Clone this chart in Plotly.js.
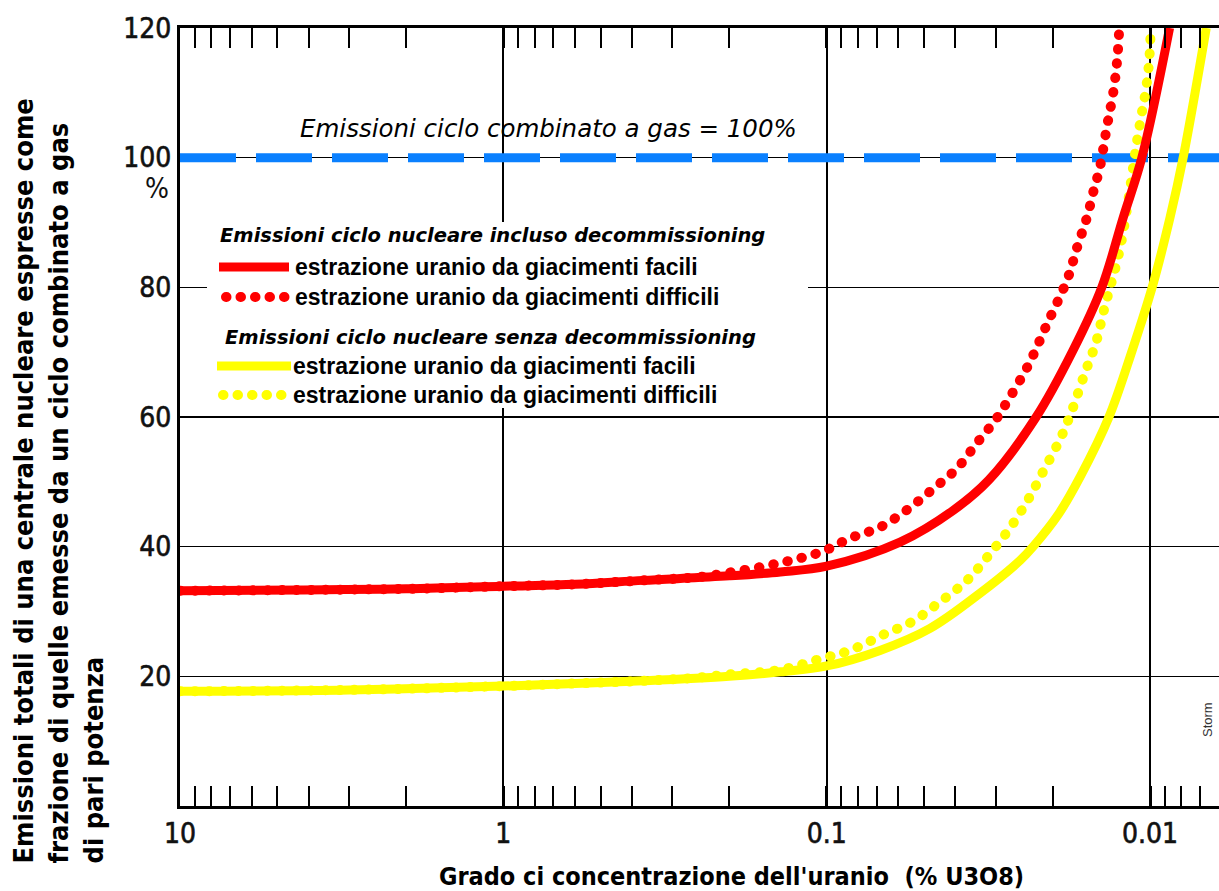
<!DOCTYPE html>
<html>
<head>
<meta charset="utf-8">
<script src="https://cdn.plot.ly/plotly-3.0.1.min.js"></script>
<style>
  html, body { margin: 0; padding: 0; background: #fff; }
  #chart { width: 1219px; height: 891px; }
  path[style*="0.5px"] { stroke-linecap: round; }
  .xtick text, .ytick text { stroke: #111; stroke-width: 0.6px; }
</style>
</head>
<body>
<div id="chart"></div>
<script>
// ---- data ----
const xTickVals = [10, 1, 0.1, 0.01];
const xTickText = ["10", "1", "0.1", "0.01"];
const yTickVals = [20, 40, 60, 80, 100, 120];
const yTickText = ["20", "40", "60", "80", "100", "120"];

// gas combined cycle reference = 100%
const gasX = [10, 0.005];
const gasY = [100, 100];

// with decommissioning, easy deposits (red solid)
const redEasyX = [10, 2, 1, 0.6, 0.37, 0.2, 0.139, 0.1, 0.0593, 0.0406, 0.0315, 0.0225, 0.0173, 0.0141, 0.0121, 0.0106, 0.0087];
const redEasyY = [33.2, 33.5, 33.9, 34.2, 34.8, 35.5, 36.1, 37.0, 40.7, 45.6, 50.3, 60, 70.3, 80, 90.8, 100, 120];

// with decommissioning, difficult deposits (red dotted)
const redHardX = [10, 2, 1, 0.6, 0.37, 0.25, 0.2, 0.139, 0.1025, 0.0847, 0.0684, 0.056, 0.0469, 0.0395, 0.0343, 0.0301, 0.0281, 0.0238, 0.0207, 0.018, 0.0168, 0.01567, 0.01479, 0.01436, 0.01357, 0.013, 0.01264, 0.01245];
const redHardY = [33.2, 33.5, 33.9, 34.2, 34.8, 35.3, 36, 37.5, 39.3, 41.3, 43, 45.8, 48.9, 52.1, 56, 59.5, 61.8, 68, 74.6, 81.3, 86.2, 90.8, 95.8, 98, 105, 110, 115, 120];

// without decommissioning, easy deposits (yellow solid)
const yelEasyX = [10, 3, 1, 0.6, 0.37, 0.2, 0.139, 0.1, 0.0684, 0.0479, 0.0336, 0.0252, 0.0230, 0.0192, 0.01644, 0.0134, 0.01135, 0.00985, 0.00867, 0.0079, 0.0067];
const yelEasyY = [17.7, 17.9, 18.5, 18.9, 19.3, 20.0, 20.7, 21.6, 24, 27.4, 32.8, 37.9, 40, 45, 50.8, 60, 70.3, 80, 90.8, 100, 120];

// without decommissioning, difficult deposits (yellow dotted)
const yelHardX = [10, 3, 1, 0.6, 0.37, 0.25, 0.2, 0.139, 0.1063, 0.0847, 0.067, 0.0541, 0.0446, 0.0368, 0.0315, 0.0271, 0.0238, 0.0213, 0.0188, 0.0173, 0.0159, 0.01469, 0.01387, 0.01236, 0.01096, 0.01057, 0.01035, 0.01007, 0.00995];
const yelHardY = [17.7, 17.9, 18.5, 18.9, 19.3, 19.8, 20.3, 21, 22.6, 24, 26.4, 28.5, 31.5, 34.8, 38.7, 42.9, 47.3, 51.8, 57, 61.5, 66.8, 71.5, 76.6, 86.2, 102.7, 107.3, 109.8, 114.7, 120];

const legendTitles = ["Emissioni ciclo nucleare incluso decommissioning", "Emissioni ciclo nucleare senza decommissioning"];
const legendLabels = ["estrazione uranio da giacimenti facili", "estrazione uranio da giacimenti difficili"];
const gasLabel = "Emissioni ciclo combinato a gas = 100%";
const xTitle = "Grado ci concentrazione dell'uranio  (% U3O8)";
const yTitle = "Emissioni totali di una centrale nucleare espresse come<br>frazione di quelle emesse da un ciclo combinato a gas<br>di pari potenza";

// ---- styling ----
const RED = "#ff0000", YEL = "#ffff00", BLUE = "#0a80ff";
const NARROW = "'Liberation Sans Narrow', 'Arial Narrow', 'DejaVu Sans Condensed', sans-serif";
const SANS = "'Liberation Sans', Arial, sans-serif";
const DJ = "'DejaVu Sans', sans-serif";
const DOTS = "0.5px,14px";

const L = 180, T = 28, W = 1039, H = 778;
const PX = v => (v - L) / W;
const PY = v => (T + H - v) / H;

const traces = [
  {x: gasX, y: gasY, mode: "lines", line: {color: BLUE, width: 9, dash: "56px,20px"}, hoverinfo: "skip"},
  {x: yelEasyX, y: yelEasyY, mode: "lines", line: {color: YEL, width: 9, shape: "spline", smoothing: 1}, name: legendLabels[0]},
  {x: yelHardX, y: yelHardY, mode: "lines", line: {color: YEL, width: 10, shape: "spline", smoothing: 1, dash: DOTS}, name: legendLabels[1]},
  {x: redEasyX, y: redEasyY, mode: "lines", line: {color: RED, width: 9, shape: "spline", smoothing: 1}, name: legendLabels[0]},
  {x: redHardX, y: redHardY, mode: "lines", line: {color: RED, width: 10, shape: "spline", smoothing: 1, dash: DOTS}, name: legendLabels[1]}
];

const shapes = [
  {type: "rect", xref: "paper", yref: "paper", x0: PX(207), x1: PX(808), y0: PY(222), y1: PY(408), fillcolor: "#fff", line: {width: 0}, layer: "above"},
  {type: "line", xref: "paper", yref: "paper", x0: PX(219), x1: PX(289), y0: PY(267), y1: PY(267), line: {color: RED, width: 9}, layer: "above"},
  {type: "line", xref: "paper", yref: "paper", x0: PX(226), x1: PX(287), y0: PY(297), y1: PY(297), line: {color: RED, width: 10, dash: DOTS}, layer: "above"},
  {type: "line", xref: "paper", yref: "paper", x0: PX(217), x1: PX(291), y0: PY(366), y1: PY(366), line: {color: YEL, width: 9}, layer: "above"},
  {type: "line", xref: "paper", yref: "paper", x0: PX(223), x1: PX(287), y0: PY(395), y1: PY(395), line: {color: YEL, width: 10, dash: DOTS}, layer: "above"}
];

const ann = (text, x, y, opts) => Object.assign({text: text, xref: "paper", yref: "paper", x: PX(x), y: PY(y), showarrow: false, xanchor: "left", yanchor: "middle"}, opts);

const annotations = [
  ann(gasLabel, 298, 128, {font: {family: DJ, size: 24.5, color: "#000", style: "italic"}}),
  ann("<b>" + legendTitles[0] + "</b>", 218, 236, {font: {family: DJ, size: 19.5, color: "#000", style: "italic"}}),
  ann("<b>" + legendLabels[0] + "</b>", 293, 267, {font: {family: SANS, size: 23, color: "#000"}}),
  ann("<b>" + legendLabels[1] + "</b>", 293, 297, {font: {family: SANS, size: 23, color: "#000"}}),
  ann("<b>" + legendTitles[1] + "</b>", 223, 337, {font: {family: DJ, size: 19.5, color: "#000", style: "italic"}}),
  ann("<b>" + legendLabels[0] + "</b>", 291, 366, {font: {family: SANS, size: 23, color: "#000"}}),
  ann("<b>" + legendLabels[1] + "</b>", 291, 395, {font: {family: SANS, size: 23, color: "#000"}}),
  ann("%", 157, 188, {xanchor: "center", font: {family: NARROW, size: 28, color: "#111"}}),
  ann("<b>" + xTitle + "</b>", 731, 876, {xanchor: "center", font: {family: NARROW, size: 25, color: "#000"}}),
  ann("<b>" + yTitle + "</b>", 58, 866, {xanchor: "center", yanchor: "bottom", align: "left", textangle: -90, font: {family: NARROW, size: 27, color: "#000"}}),
  ann("Storm", 1207, 720, {xanchor: "center", textangle: -90, font: {family: SANS, size: 13, color: "#333"}})
];

const layout = {
  width: 1219, height: 891,
  margin: {l: L, r: 0, t: T, b: 85},
  paper_bgcolor: "#fff", plot_bgcolor: "#fff",
  showlegend: false,
  xaxis: {
    type: "log", range: [1, Math.log10(0.00612)],
    tickmode: "array", tickvals: xTickVals, ticktext: xTickText,
    ticks: "inside", ticklen: 20, tickwidth: 3, tickcolor: "#000",
    showline: true, linewidth: 3, linecolor: "#000", mirror: "ticks",
    showgrid: true, gridcolor: "#000", gridwidth: 2, zeroline: false,
    tickfont: {family: NARROW, size: 28, color: "#111"},
    minor: {dtick: "D1", ticks: "inside", ticklen: 20, tickwidth: 2, tickcolor: "#000", showgrid: false}
  },
  yaxis: {
    range: [0, 120], tickmode: "array", tickvals: yTickVals, ticktext: yTickText,
    ticks: "", showline: true, linewidth: 3, linecolor: "#000",
    showgrid: true, gridcolor: "#000", gridwidth: 1.5, zeroline: false,
    tickfont: {family: NARROW, size: 28, color: "#111"}
  },
  shapes: shapes,
  annotations: annotations
};

Plotly.newPlot("chart", traces, layout, {displayModeBar: false, staticPlot: true});
</script>
</body>
</html>
